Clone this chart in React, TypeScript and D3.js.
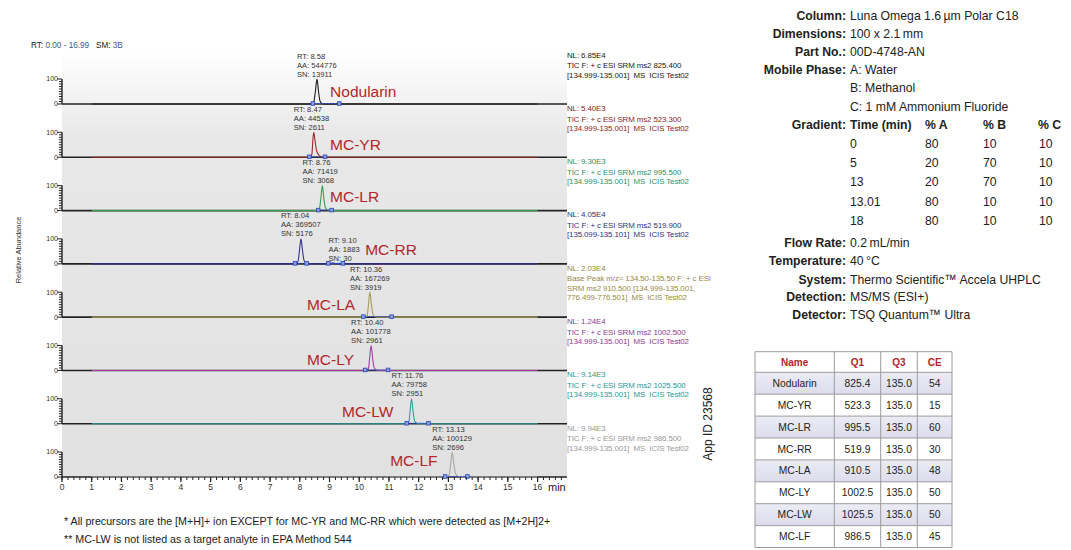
import React from "react";
import * as d3 from "d3";

// ---------- DATA ----------
const compounds = ["Nodularin", "MC-YR", "MC-LR", "MC-RR", "MC-LA", "MC-LY", "MC-LW", "MC-LF"];
const traceColors = ["#1a1a1a", "#9c2a2a", "#35a04e", "#35358f", "#a89c55", "#a23ea2", "#2f9e9e", "#a8a8a8"];
const infoColors = ["#1a1a1a", "#8e2323", "#2b9467", "#2a3580", "#978a45", "#8e3a8e", "#2a9898", "#9a9a9a"];
const retentionTimes = [8.58, 8.47, 8.76, 8.04, 10.36, 10.4, 11.76, 13.13];
const peakAreas = [544776, 44538, 71419, 369507, 167269, 101778, 79758, 100129];
const signalNoise = [13911, 2611, 3068, 5176, 3919, 2961, 2951, 2696];
const normLevels = ["6.85E4", "5.40E3", "9.30E3", "4.05E4", "2.03E4", "1.24E4", "9.14E3", "9.94E3"];
const scanFilters: string[][] = [
  ["TIC F: + c ESI SRM ms2 825.400", "[134.999-135.001]  MS  ICIS Test02"],
  ["TIC F: + c ESI SRM ms2 523.300", "[134.999-135.001]  MS  ICIS Test02"],
  ["TIC F: + c ESI SRM ms2 995.500", "[134.999-135.001]  MS  ICIS Test02"],
  ["TIC F: + c ESI SRM ms2 519.900", "[135.099-135.101]  MS  ICIS Test02"],
  ["Base Peak m/z= 134.50-135.50 F: + c ESI", "SRM ms2 910.500 [134.999-135.001,", "776.499-776.501]  MS  ICIS Test02"],
  ["TIC F: + c ESI SRM ms2 1002.500", "[134.999-135.001]  MS  ICIS Test02"],
  ["TIC F: + c ESI SRM ms2 1025.500", "[134.999-135.001]  MS  ICIS Test02"],
  ["TIC F: + c ESI SRM ms2 986.500", "[134.999-135.001]  MS  ICIS Test02"],
];
// chromatogram peak profiles: [time (min), relative abundance]
const peakProfiles: [number, number][][] = [
  [[8.4, 0], [8.47, 8], [8.52, 45], [8.58, 100], [8.63, 50], [8.68, 12], [8.75, 2], [8.85, 0]],
  [[8.36, 0], [8.41, 15], [8.44, 70], [8.47, 100], [8.5, 78], [8.55, 35], [8.62, 12], [8.7, 3], [8.8, 0]],
  [[8.6, 0], [8.66, 8], [8.71, 50], [8.76, 100], [8.81, 48], [8.86, 12], [8.93, 2], [9.02, 0]],
  [[7.86, 0], [7.94, 10], [7.99, 55], [8.04, 100], [8.09, 55], [8.14, 15], [8.22, 3], [8.32, 0], [9.02, 0], [9.1, 4], [9.2, 1], [9.4, 0]],
  [[10.2, 0], [10.27, 8], [10.31, 50], [10.36, 100], [10.41, 50], [10.46, 12], [10.53, 2], [10.62, 0]],
  [[10.24, 0], [10.31, 8], [10.35, 50], [10.4, 100], [10.45, 50], [10.5, 12], [10.57, 2], [10.66, 0]],
  [[11.6, 0], [11.67, 8], [11.71, 50], [11.76, 100], [11.81, 50], [11.86, 12], [11.93, 2], [12.02, 0]],
  [[12.95, 0], [13.03, 10], [13.08, 55], [13.13, 100], [13.18, 55], [13.24, 14], [13.32, 2], [13.42, 0]],
];
const traceRange = [1.0, 16.0];
const integrationBounds: [number, number][][] = [
  [[8.44, 9.33]],
  [[8.32, 8.85]],
  [[8.62, 9.07]],
  [[7.84, 8.23], [8.96, 9.45]],
  [[10.14, 11.09]],
  [[10.2, 10.97]],
  [[11.6, 12.33]],
  [[12.89, 13.64]],
];
// secondary peak annotation (MC-RR)
const extraPeak = { panel: 3, rt: 9.1, aa: 1883, sn: 30 };
// compound label anchors [time, relative abundance]
const nameAnchors: [number, number][] = [
  [9.02, 28], [9.02, 30], [9.02, 34], [10.2, 34], [8.24, 28], [8.24, 22], [9.42, 28], [11.04, 44],
];
const xTickLabels = d3.range(0, 17);

const conditionLabels = ["Column:", "Dimensions:", "Part No.:", "Mobile Phase:", "", "", "Gradient:"];
const conditionValues = ["Luna Omega 1.6\u2009µm Polar C18", "100 x 2.1\u2009mm", "00D-4748-AN", "A: Water", "B: Methanol", "C: 1 mM Ammonium Fluoride"];
const gradientHeader = ["Time (min)", "% A", "% B", "% C"];
const gradientTimes = ["0", "5", "13", "13.01", "18"];
const gradientA = [80, 20, 20, 80, 80];
const gradientB = [10, 70, 70, 10, 10];
const gradientC = [10, 10, 10, 10, 10];
const condition2Labels = ["Flow Rate:", "Temperature:", "System:", "Detection:", "Detector:"];
const condition2Values = ["0.2\u2009mL/min", "40\u2009°C", "Thermo Scientific\u2122 Accela UHPLC", "MS/MS (ESI+)", "TSQ Quantum\u2122 Ultra"];

const tableHeader = ["Name", "Q1", "Q3", "CE"];
const q1Values = ["825.4", "523.3", "995.5", "519.9", "910.5", "1002.5", "1025.5", "986.5"];
const q3Values = ["135.0", "135.0", "135.0", "135.0", "135.0", "135.0", "135.0", "135.0"];
const ceValues = [54, 15, 60, 30, 48, 50, 50, 45];

const footnotes = [
  "* All precursors are the [M+H]+ ion EXCEPT for MC-YR and MC-RR which were detected as [M+2H]2+",
  "** MC-LW is not listed as a target analyte in EPA Method 544",
];

// ---------- LAYOUT ----------
const W = 1071, H = 550;
const plotLeft = 62, plotRight = 567;
const firstBase = 104, panelStep = 53.29, panelH = 25;
const sans = "'Liberation Sans', Arial, Helvetica, sans-serif";
const nameRed = "#b3262a";
const pre = { whiteSpace: "pre" as const };

function NText(props: { x: number; y: number; anchor?: string; bold?: boolean; children: React.ReactNode }) {
  return (
    <text
      transform={`translate(${props.x},${props.y}) scale(0.9,1)`}
      textAnchor={props.anchor || "start"}
      fontWeight={props.bold ? "bold" : "normal"}
      style={pre}
    >
      {props.children}
    </text>
  );
}

export default function App() {
  const x = d3.scaleLinear().domain([0, 16.99]).range([plotLeft, plotRight]);
  const bases = compounds.map((_, i) => firstBase + i * panelStep);
  const lastBase = bases[bases.length - 1];
  const minorX = d3.range(0, 16.99, 0.2);
  const minorY = d3.range(0, 101, 10);

  const info1Rows = [19.8, 37.8, 55.8, 74.2, 92.3, 110.7];
  const gradHeadY = 129;
  const gradRowY = gradientTimes.map((_, i) => 147.8 + i * 19.3);
  const info2Y = [247.3, 265.2, 283.7, 301.3, 319.3];
  const gradCols = [850, 925, 983, 1038];

  const tCols = [755, 834.3, 880.7, 917.3, 952];
  const tHeadTop = 351.7, tHeadBot = 372.3, tRowH = 21.9;

  return (
    <svg width={W} height={H} style={{ position: "absolute", left: 0, top: 0, background: "#fff" }}>
      <defs>
        <linearGradient id="bg" x1="0" y1="0" x2="0" y2="1">
          <stop offset="0" stopColor="#ffffff" />
          <stop offset="0.2" stopColor="#e8e8e8" />
          <stop offset="1" stopColor="#e1e1e1" />
        </linearGradient>
        <linearGradient id="rowShade" x1="0" y1="0" x2="0" y2="1">
          <stop offset="0" stopColor="#ececf6" />
          <stop offset="1" stopColor="#dcdcec" />
        </linearGradient>
      </defs>

      {/* header */}
      <text x={31} y={48} fontFamily={sans} fontSize={8.2} fill="#222" style={pre}>
        {"RT: "}<tspan fill="#3b5a8c">0.00 - 16.99</tspan>{"   SM: "}<tspan fill="#3b5a8c">3B</tspan>
      </text>

      {/* plot background */}
      <rect x={plotLeft} y={52} width={plotRight - plotLeft} height={lastBase - 52} fill="url(#bg)" />

      {compounds.map((name, i) => {
        const b = bases[i];
        const y = d3.scaleLinear().domain([0, 100]).range([b, b - panelH]);
        const pts: [number, number][] = [[traceRange[0], 0], ...peakProfiles[i], [traceRange[1], 0]];
        const line = d3.line<[number, number]>().x((d) => x(d[0])).y((d) => y(d[1])).curve(d3.curveMonotoneX);
        const px = x(retentionTimes[i]);
        const infoLines = [`NL: ${normLevels[i]}`, ...scanFilters[i]];
        return (
          <g key={name}>
            {/* baseline frame */}
            <line x1={plotLeft} x2={plotRight} y1={b} y2={b} stroke="#222" strokeWidth={1.6} />
            {/* y axis */}
            <line x1={plotLeft} x2={plotLeft} y1={y(0)} y2={y(100)} stroke="#222" strokeWidth={1.4} />
            {minorY.map((v) => (
              <line key={v} x1={plotLeft - (v === 0 || v === 100 ? 5 : 3)} x2={plotLeft} y1={y(v)} y2={y(v)} stroke="#222" strokeWidth={1} />
            ))}
            {[0, 100].map((v) => (
              <text key={v} x={plotLeft - 4} y={y(v)} dy="0.35em" textAnchor="end" fontFamily={sans} fontSize={7} fill="#333">
                {v}
              </text>
            ))}
            {/* trace */}
            <path d={line(pts) || ""} fill="none" stroke={traceColors[i]} strokeWidth={1.1} />
            {/* integration markers */}
            {integrationBounds[i].map(([t0, t1], k) => (
              <g key={k}>
                <line x1={x(t0)} x2={x(t1)} y1={b - 0.5} y2={b - 0.5} stroke="#3a55c8" strokeWidth={1} strokeDasharray="2,1" />
                {[t0, t1].map((t) => (
                  <rect key={t} x={x(t) - 1.8} y={b - 2.3} width={3.6} height={3.6} fill="#8aa0e6" stroke="#2b44b8" strokeWidth={0.8} />
                ))}
              </g>
            ))}
            {/* peak annotation */}
            {[`RT: ${retentionTimes[i].toFixed(2)}`, `AA: ${peakAreas[i]}`, `SN: ${signalNoise[i]}`].map((s, k) => (
              <text key={k} x={px - 20} y={b - 45.5 + k * 9} fontFamily={sans} fontSize={7.6} fill="#333">
                {s}
              </text>
            ))}
            {extraPeak.panel === i &&
              [`RT: ${extraPeak.rt.toFixed(2)}`, `AA: ${extraPeak.aa}`, `SN: ${extraPeak.sn}`].map((s, k) => (
                <text key={"e" + k} x={x(extraPeak.rt) - 4} y={b - 20.5 + k * 8.8} fontFamily={sans} fontSize={7.6} fill="#333">
                  {s}
                </text>
              ))}
            {/* compound name */}
            <text x={x(nameAnchors[i][0])} y={y(nameAnchors[i][1])} fontFamily={sans} fontSize={15.5} fill={nameRed}>
              {name}
            </text>
            {/* right info */}
            {infoLines.map((s, k) => (
              <text key={k} x={plotRight} y={b - 46.5 + (k === 0 ? 0 : 1.5) + k * 9.3} fontFamily={sans} fontSize={7.9} fill={infoColors[i]} letterSpacing={-0.1} style={pre}>
                {s}
              </text>
            ))}
          </g>
        );
      })}

      {/* x axis */}
      <g>
        {minorX.map((t, k) => (
          <line key={k} x1={x(t)} x2={x(t)} y1={lastBase} y2={lastBase + 3} stroke="#222" strokeWidth={1} />
        ))}
        {xTickLabels.map((t) => (
          <g key={t}>
            <line x1={x(t)} x2={x(t)} y1={lastBase} y2={lastBase + 5} stroke="#222" strokeWidth={1.2} />
            <text x={x(t)} y={lastBase + 13} textAnchor="middle" fontFamily={sans} fontSize={8.5} fill="#333">
              {t}
            </text>
          </g>
        ))}
        <text x={548} y={lastBase + 14} fontFamily={sans} fontSize={11} fill="#222">
          min
        </text>
      </g>

      {/* y axis title */}
      <text transform="translate(21,250) rotate(-90)" textAnchor="middle" fontFamily={sans} fontSize={7.5} fill="#333">
        Relative Abundance
      </text>

      {/* footnotes */}
      {footnotes.map((s, k) => (
        <text key={k} x={64} y={524.5 + k * 18} fontFamily={sans} fontSize={10.7} fill="#222">
          {s}
        </text>
      ))}

      {/* App ID */}
      <text transform="translate(712,424) rotate(-90)" textAnchor="middle" fontFamily={sans} fontSize={12} fill="#222">
        App ID 23568
      </text>

      {/* conditions */}
      <g fontFamily={sans} fontSize={13.6} fill="#222">
        {conditionValues.map((v, k) => (
          <g key={k}>
            {conditionLabels[k] && <NText x={846} y={info1Rows[k]} anchor="end" bold>{conditionLabels[k]}</NText>}
            <NText x={850} y={info1Rows[k]}>{v}</NText>
          </g>
        ))}
        <NText x={846} y={gradHeadY} anchor="end" bold>{conditionLabels[6]}</NText>
        {gradientHeader.map((h, k) => (
          <NText key={h} x={gradCols[k]} y={gradHeadY} bold>{h}</NText>
        ))}
        {gradientTimes.map((t, r) => (
          <g key={t}>
            <NText x={gradCols[0]} y={gradRowY[r]}>{t}</NText>
            <NText x={gradCols[1]} y={gradRowY[r]}>{gradientA[r]}</NText>
            <NText x={gradCols[2]} y={gradRowY[r]}>{gradientB[r]}</NText>
            <NText x={gradCols[3] + 1} y={gradRowY[r]}>{gradientC[r]}</NText>
          </g>
        ))}
        {condition2Labels.map((l, k) => (
          <g key={l}>
            <NText x={846} y={info2Y[k]} anchor="end" bold>{l}</NText>
            <NText x={850} y={info2Y[k]}>{condition2Values[k]}</NText>
          </g>
        ))}
      </g>

      {/* MRM table */}
      <g fontFamily={sans}>
        <rect x={tCols[0]} y={tHeadTop} width={tCols[4] - tCols[0]} height={tHeadBot - tHeadTop} fill="#fff" />
        {compounds.map((c, r) => (
          <rect key={c} x={tCols[0]} y={tHeadBot + r * tRowH} width={tCols[4] - tCols[0]} height={tRowH} fill={r % 2 === 0 ? "url(#rowShade)" : "#fff"} />
        ))}
        {tableHeader.map((h, k) => (
          <text key={h} x={(tCols[k] + tCols[k + 1]) / 2} y={(tHeadTop + tHeadBot) / 2} dy="0.35em" textAnchor="middle" fontWeight="bold" fontSize={10} fill={nameRed}>
            {h}
          </text>
        ))}
        {compounds.map((c, r) => {
          const cy = tHeadBot + r * tRowH + tRowH / 2;
          const cells = [c, q1Values[r], q3Values[r], String(ceValues[r])];
          return cells.map((s, k) => (
            <text key={c + k} x={(tCols[k] + tCols[k + 1]) / 2} y={cy} dy="0.35em" textAnchor="middle" fontSize={10.3} fill="#222">
              {s}
            </text>
          ));
        })}
        {/* grid lines */}
        {d3.range(0, compounds.length + 2).map((r) => {
          const yy = r === 0 ? tHeadTop : tHeadBot + (r - 1) * tRowH;
          return <line key={"h" + r} x1={tCols[0]} x2={tCols[4]} y1={yy} y2={yy} stroke="#9c9c9c" strokeWidth={1} />;
        })}
        {tCols.map((cx, k) => (
          <line key={"v" + k} x1={cx} x2={cx} y1={tHeadTop} y2={tHeadBot + compounds.length * tRowH} stroke="#9c9c9c" strokeWidth={1} />
        ))}
      </g>
    </svg>
  );
}
